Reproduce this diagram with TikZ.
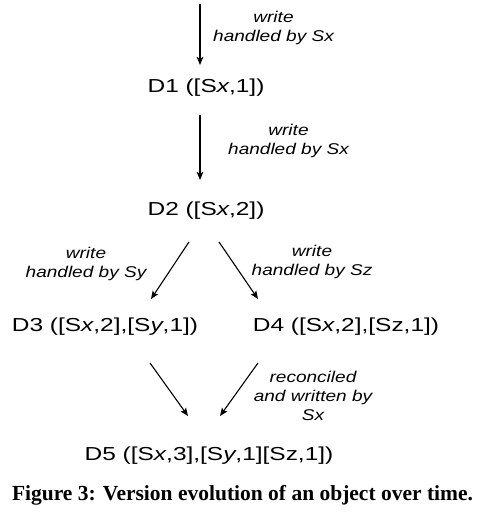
\documentclass[tikz,border=0pt]{standalone}
\usepackage{fontspec}
\setmainfont{Liberation Serif}
\newfontfamily\verfont[FakeStretch=1.3]{Liberation Sans}
\newfontfamily\notefont[FakeStretch=1.22]{Liberation Sans}
\usetikzlibrary{arrows.meta}
\tikzset{
  version/.style={inner sep=0pt, font=\verfont\fontsize{18.8}{22}\selectfont},
  note/.style={inner sep=0pt, align=center, font=\notefont\itshape\fontsize{15.6}{19}\selectfont},
  evolve/.style={-{Stealth[length=8pt,width=6.5pt,inset=1.5pt]}, line width=1.1pt}
}
\begin{document}
\begin{tikzpicture}[x=1pt, y=-1pt]
  \useasboundingbox (0,0) rectangle (481,513);
  % versions
  \coordinate (start) at (200,4);
  \node[version] (d1) at (206,88)  {D1 ([S\textit{x},1])};
  \node[version] (d2) at (206,211) {D2 ([S\textit{x},2])};
  \node[version] (d3) at (105,327) {D3 ([S\textit{x},2],[S\textit{y},1])};
  \node[version] (d4) at (346,327) {D4 ([S\textit{x},2],[Sz,1])};
  \node[version] (d5) at (209,456) {D5 ([S\textit{x},3],[S\textit{y},1][Sz,1])};
  % writes
  \draw[evolve] (start) -- ([xshift=-6pt,yshift=14pt]d1.north);
  \draw[evolve] ([xshift=-6pt,yshift=-18pt]d1.south) -- ([xshift=-6pt,yshift=22pt]d2.north);
  \draw[evolve] ([xshift=-17pt,yshift=-22pt]d2.south) -- ([xshift=46pt,yshift=19pt]d3.north);
  \draw[evolve] ([xshift=13pt,yshift=-22pt]d2.south) -- ([xshift=-88pt,yshift=19pt]d4.north);
  % reconciliation
  \draw[evolve] ([xshift=45pt,yshift=-27pt]d3.south) -- ([xshift=-21pt,yshift=31pt]d5.north);
  \draw[evolve] ([xshift=-88pt,yshift=-27pt]d4.south) -- ([xshift=11pt,yshift=31pt]d5.north);
  \node[note] (n1) at (273.5,28)  {write\\handled by Sx};
  \node[note] (n2) at (288.5,141) {write\\handled by Sx};
  \node[note] (n3) at (86,264)    {write\\handled by Sy};
  \node[note] (n4) at (312,262)   {write\\handled by Sz};
  \node[note] (n5) at (313,396)   {reconciled\\and written by\\Sx};
  % caption
  \node[inner sep=0pt, font=\bfseries\fontsize{21.5}{24}\selectfont] (cap) at (242.5,495)
    {Figure 3: Version evolution of an object over time.};
\end{tikzpicture}
\end{document}
